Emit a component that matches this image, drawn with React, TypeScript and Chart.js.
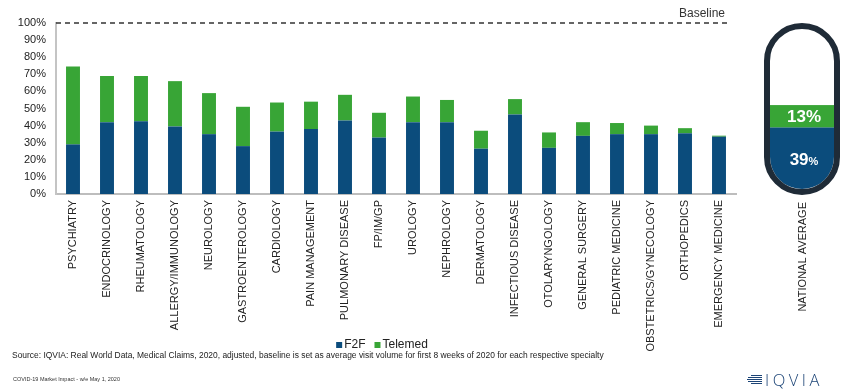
import React, { useEffect, useRef } from "react";
import { Chart, registerables } from "chart.js";

Chart.register(...registerables);

const categories = [
  "PSYCHIATRY", "ENDOCRINOLOGY", "RHEUMATOLOGY", "ALLERGY/IMMUNOLOGY", "NEUROLOGY",
  "GASTROENTEROLOGY", "CARDIOLOGY", "PAIN MANAGEMENT", "PULMONARY DISEASE", "FP/IM/GP",
  "UROLOGY", "NEPHROLOGY", "DERMATOLOGY", "INFECTIOUS DISEASE", "OTOLARYNGOLOGY",
  "GENERAL SURGERY", "PEDIATRIC MEDICINE", "OBSTETRICS/GYNECOLOGY", "ORTHOPEDICS", "EMERGENCY MEDICINE",
];
const f2fValues = [29, 42, 42.5, 39.5, 35, 28, 36.5, 38, 43, 33, 42, 42, 26.5, 46.5, 27, 34, 35, 35, 35.5, 33.5];
const telemedValues = [45.5, 27, 26.5, 26.5, 24, 23, 17, 16, 15, 14.5, 15, 13, 10.5, 9, 9, 8, 6.5, 5, 3, 0.6];
const nationalF2F = 39;
const nationalTelemed = 13;
const baselineValue = 100;
const yTickValues = [0, 10, 20, 30, 40, 50, 60, 70, 80, 90, 100];

const BLUE = "#0b4c7c";
const GREEN = "#38a536";
const FONT = '"Liberation Sans", Arial, sans-serif';

function pillPath(ctx: CanvasRenderingContext2D, x: number, y: number, w: number, h: number) {
  const r = w / 2;
  ctx.beginPath();
  ctx.moveTo(x, y + r);
  ctx.arc(x + r, y + r, r, Math.PI, 0);
  ctx.lineTo(x + w, y + h - r);
  ctx.arc(x + r, y + h - r, r, 0, Math.PI);
  ctx.closePath();
}

const overlayPlugin = {
  id: "overlay",
  afterDatasetsDraw(chart: any) {
    const { ctx, chartArea } = chart;
    const y = chart.scales.y;
    ctx.save();

    // Baseline dashed line
    const yb = y.getPixelForValue(baselineValue);
    ctx.setLineDash([5, 4]);
    ctx.strokeStyle = "#333";
    ctx.lineWidth = 1.5;
    ctx.beginPath();
    ctx.moveTo(chartArea.left, yb);
    ctx.lineTo(chartArea.right - 6, yb);
    ctx.stroke();
    ctx.setLineDash([]);
    ctx.fillStyle = "#333";
    ctx.font = `12px ${FONT}`;
    ctx.textAlign = "right";
    ctx.textBaseline = "bottom";
    ctx.fillText("Baseline", chartArea.right - 11, yb - 3);

    // National average pill
    const w = 76;
    const bw = 6;
    const cx = chartArea.right + 66;
    const x0 = cx - w / 2;
    const top = y.getPixelForValue(100);
    const bottom = y.getPixelForValue(0) + 1;
    const h = bottom - top;

    ctx.save();
    pillPath(ctx, x0 + bw, top + bw, w - 2 * bw, h - 2 * bw);
    ctx.clip();
    ctx.fillStyle = "#ffffff";
    ctx.fillRect(x0, top, w, h);
    const yF = y.getPixelForValue(nationalF2F);
    const yT = y.getPixelForValue(nationalF2F + nationalTelemed);
    ctx.fillStyle = BLUE;
    ctx.fillRect(x0, yF, w, bottom - yF);
    ctx.fillStyle = GREEN;
    ctx.fillRect(x0, yT, w, yF - yT);
    ctx.restore();

    pillPath(ctx, x0 + bw / 2, top + bw / 2, w - bw, h - bw);
    ctx.strokeStyle = "#1f2b37";
    ctx.lineWidth = bw;
    ctx.stroke();

    ctx.fillStyle = "#ffffff";
    ctx.textBaseline = "middle";
    ctx.textAlign = "center";
    ctx.font = `bold 17px ${FONT}`;
    ctx.fillText(`${nationalTelemed}%`, cx + 2, (yT + yF) / 2 + 1);
    // 39 with small %
    const big = `${nationalF2F}`;
    ctx.font = `bold 17px ${FONT}`;
    const wb = ctx.measureText(big).width;
    ctx.font = `bold 11px ${FONT}`;
    const ws = ctx.measureText("%").width;
    const startX = cx + 2 - (wb + ws) / 2;
    const yMid = (yF + y.getPixelForValue(0)) / 2 - 2;
    ctx.textAlign = "left";
    ctx.textBaseline = "alphabetic";
    ctx.font = `bold 17px ${FONT}`;
    ctx.fillText(big, startX, yMid + 6);
    ctx.font = `bold 11px ${FONT}`;
    ctx.fillText("%", startX + wb, yMid + 6);

    // National average label
    ctx.save();
    ctx.translate(cx + 1, chartArea.bottom + 8);
    ctx.rotate(-Math.PI / 2);
    ctx.fillStyle = "#222";
    ctx.font = `11px ${FONT}`;
    ctx.textAlign = "right";
    ctx.textBaseline = "middle";
    ctx.fillText("NATIONAL AVERAGE", 0, 0);
    ctx.restore();

    // Legend
    const ly = 345;
    const items = chart.data.datasets.map((d: any) => ({ label: d.label, color: d.backgroundColor }));
    ctx.font = `12px ${FONT}`;
    const box = 6;
    const gapBox = 2;
    const gapItem = 9;
    const widths = items.map((it: any) => box + gapBox + ctx.measureText(it.label).width);
    const total = widths.reduce((a: number, b: number) => a + b, 0) + gapItem * (items.length - 1);
    let lx = 382 - total / 2;
    ctx.textAlign = "left";
    ctx.textBaseline = "middle";
    items.forEach((it: any, i: number) => {
      ctx.fillStyle = it.color;
      ctx.fillRect(lx, ly - box / 2, box, box);
      ctx.fillStyle = "#222";
      ctx.fillText(it.label, lx + box + gapBox, ly);
      lx += widths[i] + gapItem;
    });

    ctx.restore();
  },
};

export default function App() {
  const canvasRef = useRef<HTMLCanvasElement | null>(null);

  useEffect(() => {
    if (!canvasRef.current) return;
    const chart = new Chart(canvasRef.current, {
      type: "bar",
      data: {
        labels: categories,
        datasets: [
          { label: "F2F", data: f2fValues, backgroundColor: BLUE, barPercentage: 0.41, categoryPercentage: 1 },
          { label: "Telemed", data: telemedValues, backgroundColor: GREEN, barPercentage: 0.41, categoryPercentage: 1 },
        ],
      },
      options: {
        responsive: false,
        animation: false,
        devicePixelRatio: 1,
        layout: { padding: { left: 0, right: 114, top: 23, bottom: 0 } },
        plugins: { legend: { display: false }, tooltip: { enabled: false } },
        scales: {
          x: {
            stacked: true,
            grid: { display: false, drawTicks: false },
            border: { color: "#bdbdbd", width: 2 },
            ticks: {
              autoSkip: false,
              minRotation: 90,
              maxRotation: 90,
              padding: 6,
              color: "#222",
              font: { family: FONT, size: 11 },
            },
            afterFit: (scale: any) => { scale.height = 198; },
          },
          y: {
            stacked: true,
            min: 0,
            max: 100,
            afterBuildTicks: (scale: any) => { scale.ticks = yTickValues.map((v) => ({ value: v })); },
            grid: { display: false, drawTicks: false },
            border: { color: "#c4c4c4", width: 2 },
            ticks: {
              padding: 10,
              color: "#222",
              font: { family: FONT, size: 11 },
              callback: (v: any) => `${v}%`,
            },
            afterFit: (scale: any) => { scale.width = 56; },
          },
        },
      },
      plugins: [overlayPlugin],
    });
    return () => chart.destroy();
  }, []);

  return (
    <div style={{ position: "absolute", left: 0, top: 0, width: 850, height: 392, background: "#fff", overflow: "hidden" }}>
      <canvas ref={canvasRef} width={850} height={392} style={{ position: "absolute", left: 0, top: 0, width: 850, height: 392 }} />
      <div style={{ position: "absolute", left: 12, top: 350, fontFamily: FONT, fontSize: 8.45, color: "#222", whiteSpace: "nowrap" }}>
        Source: IQVIA: Real World Data, Medical Claims, 2020, adjusted, baseline is set as average visit volume for first 8 weeks of 2020 for each respective specialty
      </div>
      <div style={{ position: "absolute", left: 13, top: 376, fontFamily: FONT, fontSize: 5.5, color: "#333", whiteSpace: "nowrap" }}>
        COVID-19 Market Impact - w/e May 1, 2020
      </div>
      <div style={{ position: "absolute", left: 747, top: 375, width: 16, height: 11 }}>
        {[0, 2, 4, 6, 8].map((t, i) => (
          <div key={i} style={{ position: "absolute", top: t, left: [4, 1, 0, 1, 4][i], right: 1, height: 1.4, background: "#1d4577" }} />
        ))}
      </div>
      <div style={{ position: "absolute", left: 765, top: 369, fontFamily: '"Open Sans", sans-serif', fontWeight: 300, fontSize: 16.5, letterSpacing: 3.5, color: "#1d4577", whiteSpace: "nowrap", lineHeight: "22px" }}>
        IQVIA
      </div>
    </div>
  );
}
